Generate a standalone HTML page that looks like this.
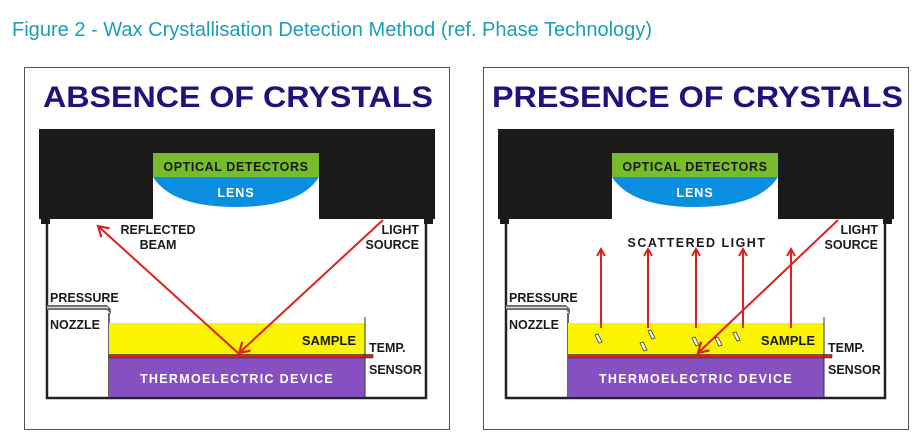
<!DOCTYPE html>
<html><head><meta charset="utf-8"><style>
html,body{margin:0;padding:0;background:#fff;width:922px;height:448px;overflow:hidden}
svg{display:block}
text{font-family:"Liberation Sans",Arial,sans-serif;font-weight:bold}
</style></head><body>
<svg width="922" height="448" viewBox="0 0 922 448" xmlns="http://www.w3.org/2000/svg">
<defs>
<marker id="ah" markerWidth="14" markerHeight="14" refX="11" refY="7" orient="auto" markerUnits="userSpaceOnUse">
<path d="M1,1 L11,7 L1,13" fill="none" stroke="#e0201c" stroke-width="2.2"/>
</marker>
<marker id="ah2" markerWidth="10" markerHeight="10" refX="8" refY="5" orient="auto" markerUnits="userSpaceOnUse">
<path d="M1,1 L8,5 L1,9" fill="none" stroke="#e0201c" stroke-width="2"/>
</marker>
<g id="ch">
<rect x="24.5" y="67.5" width="425" height="362" fill="#fff" stroke="#555" stroke-width="1"/>
<path d="M39,129 H435 V219 H319 V153 H153 V219 H39 Z" fill="#1c1a19"/>
<rect x="41" y="219" width="9" height="5" fill="#1c1a19"/>
<rect x="424" y="219" width="9" height="5" fill="#1c1a19"/>
<rect x="153" y="153" width="166" height="24" fill="#76bc2c"/>
<path d="M153,177 H319 Q300,207 236,207 Q172,207 153,177 Z" fill="#0a8fe0"/>
<text x="236" y="171" font-size="12.5" text-anchor="middle" fill="#1a1a1a" letter-spacing="0.6">OPTICAL DETECTORS</text>
<text x="236" y="197" font-size="12.5" text-anchor="middle" fill="#fff" letter-spacing="1">LENS</text>
<path d="M47,224 V398 H426 V224" fill="none" stroke="#222" stroke-width="2.5"/>
<path d="M47,305 H107 L111,309 V314 L107,310 H47 Z" fill="#666"/>
<path d="M47,307.5 H108" stroke="#f0c8c0" stroke-width="1.5"/>
<text x="50" y="302" font-size="12.5" fill="#1a1a1a">PRESSURE</text>
<text x="50" y="329" font-size="12.5" fill="#1a1a1a">NOZZLE</text>
<line x1="109" y1="313" x2="109" y2="398" stroke="#333" stroke-width="1.5"/>
<rect x="109" y="323" width="256" height="32" fill="#fbf400"/>
<rect x="109" y="358" width="256" height="39" fill="#8650c0"/>
<rect x="109" y="354.5" width="264" height="3.5" fill="#e0201c" stroke="#333" stroke-width="0.6"/>
<line x1="365" y1="317" x2="365" y2="398" stroke="#333" stroke-width="1"/>
<text x="356" y="345" font-size="13" text-anchor="end" fill="#1a1a1a">SAMPLE</text>
<text x="369" y="352" font-size="12.5" fill="#1a1a1a">TEMP.</text>
<text x="369" y="374" font-size="12.5" fill="#1a1a1a">SENSOR</text>
<text x="237" y="383" font-size="12.5" text-anchor="middle" fill="#fff" letter-spacing="1.3">THERMOELECTRIC DEVICE</text>
<text x="419" y="234" font-size="12.5" text-anchor="end" fill="#1a1a1a">LIGHT</text>
<text x="419" y="249" font-size="12.5" text-anchor="end" fill="#1a1a1a">SOURCE</text>
</g>
</defs>
<text x="12" y="36" font-size="20" fill="#1a9fb5" style="font-weight:normal" textLength="640" lengthAdjust="spacingAndGlyphs">Figure 2 - Wax Crystallisation Detection Method (ref. Phase Technology)</text>

<use href="#ch"/>
<text x="43" y="107" font-size="30" fill="#24107a" textLength="390" lengthAdjust="spacingAndGlyphs">ABSENCE OF CRYSTALS</text>
<text x="158" y="234" font-size="12.5" text-anchor="middle" fill="#1a1a1a">REFLECTED</text>
<text x="158" y="249" font-size="12.5" text-anchor="middle" fill="#1a1a1a">BEAM</text>
<line x1="383" y1="220" x2="239" y2="353" stroke="#e0201c" stroke-width="2" marker-end="url(#ah)"/>
<line x1="238" y1="353" x2="98" y2="226" stroke="#e0201c" stroke-width="2" marker-end="url(#ah)"/>

<g transform="translate(459,0)"><use href="#ch"/></g>
<text x="492" y="107" font-size="30" fill="#24107a" textLength="411" lengthAdjust="spacingAndGlyphs">PRESENCE OF CRYSTALS</text>
<text x="697" y="247" font-size="12.5" text-anchor="middle" fill="#1a1a1a" letter-spacing="1.5">SCATTERED LIGHT</text>
<g stroke="#e0201c" stroke-width="2" marker-end="url(#ah2)">
<line x1="601" y1="328" x2="601" y2="249"/>
<line x1="648" y1="328" x2="648" y2="249"/>
<line x1="696" y1="328" x2="696" y2="249"/>
<line x1="743" y1="328" x2="743" y2="249"/>
<line x1="791" y1="328" x2="791" y2="249"/>
</g>
<line x1="838" y1="220" x2="698" y2="353" stroke="#e0201c" stroke-width="2" marker-end="url(#ah)"/>
<g fill="#fff" stroke="#333" stroke-width="0.8">
<path d="M595,335 L598,334 L602,342 L599,343 Z"/>
<path d="M640,343 L643,342 L647,350 L644,351 Z"/>
<path d="M648,331 L651,330 L655,338 L652,339 Z"/>
<path d="M692,338 L695,337 L699,345 L696,346 Z"/>
<path d="M715,338 L718,337 L722,345 L719,346 Z"/>
<path d="M733,333 L736,332 L740,340 L737,341 Z"/>
</g>
</svg>
</body></html>
